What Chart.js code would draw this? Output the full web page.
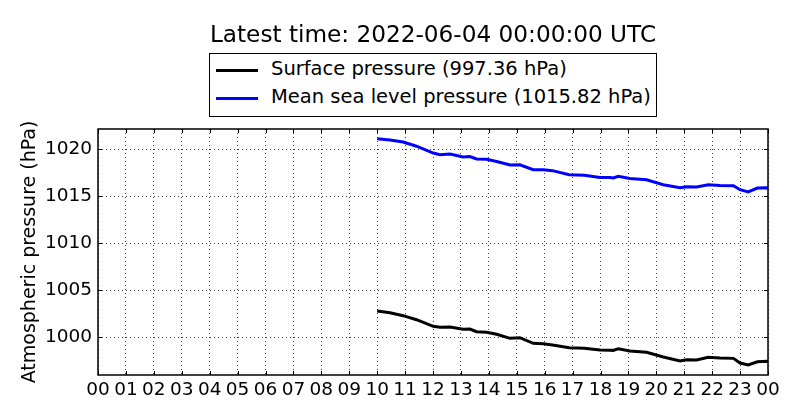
<!DOCTYPE html>
<html>
<head>
<meta charset="utf-8">
<script src="https://cdn.jsdelivr.net/npm/chart.js@4"></script>
<style>
  body { margin: 0; background: #fff; }
  #wrap { position: relative; width: 800px; height: 420px; font-family: "DejaVu Sans", sans-serif; color: #000; }
  #titulo { position: absolute; left: 98px; width: 670px; top: 19px; text-align: center; font-size: 23.2px; line-height: 30px; }
  #leyenda { position: absolute; left: 209px; top: 53px; width: 446px; height: 62px; border: 1px solid #000; background: #fff; }
  .fila { position: absolute; left: 0; height: 28px; line-height: 28px; font-size: 19.5px; white-space: nowrap; }
  .muestra { position: absolute; left: 6px; top: 14px; width: 42px; height: 3px; }
  .texto { position: absolute; left: 61px; top: 0; }
</style>
</head>
<body>
<div id="wrap">
  <canvas id="grafico" width="800" height="420"></canvas>
  <div id="titulo"></div>
  <div id="leyenda"></div>
</div>
<script>
// datos (hora UTC del dia)
const horas = [10.0, 10.46, 10.93, 11.41, 12.01, 12.25, 12.61, 13.08, 13.32, 13.56, 13.92, 14.28, 14.76, 15.11, 15.59, 15.95, 16.28, 16.88, 17.42, 17.98, 18.34, 18.46, 18.64, 19.05, 19.65, 20.25, 20.85, 21.09, 21.44, 21.86, 22.28, 22.76, 23.0, 23.29, 23.62, 23.95, 24.0];
const presionSuperficie = [1002.77, 1002.59, 1002.27, 1001.84, 1001.14, 1001.03, 1001.06, 1000.82, 1000.85, 1000.56, 1000.50, 1000.29, 999.86, 999.93, 999.33, 999.29, 999.15, 998.86, 998.80, 998.62, 998.60, 998.58, 998.76, 998.51, 998.37, 997.87, 997.45, 997.59, 997.55, 997.84, 997.77, 997.73, 997.23, 997.02, 997.37, 997.41, 997.36];
const presionNivelMar = [1021.10, 1020.96, 1020.74, 1020.30, 1019.57, 1019.40, 1019.47, 1019.15, 1019.20, 1018.94, 1018.90, 1018.68, 1018.30, 1018.33, 1017.80, 1017.80, 1017.70, 1017.27, 1017.20, 1016.98, 1016.98, 1016.92, 1017.10, 1016.87, 1016.73, 1016.20, 1015.88, 1015.99, 1015.96, 1016.20, 1016.13, 1016.10, 1015.67, 1015.43, 1015.85, 1015.88, 1015.82];
const ticksY = [1000, 1005, 1010, 1015, 1020];
const ticksX = [0, 1, 2, 3, 4, 5, 6, 7, 8, 9, 10, 11, 12, 13, 14, 15, 16, 17, 18, 19, 20, 21, 22, 23, 24];
const etiquetas = ["Surface pressure (997.36 hPa)", "Mean sea level pressure (1015.82 hPa)"];
const colores = ["#000000", "#0000ff"];
const tituloTexto = "Latest time: 2022-06-04 00:00:00 UTC";

const fuente = "'DejaVu Sans', sans-serif";

// titulo y leyenda
document.getElementById("titulo").textContent = tituloTexto;
const leyenda = document.getElementById("leyenda");
etiquetas.forEach((et, i) => {
  const fila = document.createElement("div");
  fila.className = "fila";
  fila.style.top = (1 + i * 28.3) + "px";
  fila.innerHTML = `<div class="muestra" style="background:${colores[i]}"></div><div class="texto"></div>`;
  fila.querySelector(".texto").textContent = et;
  leyenda.appendChild(fila);
});

// marco y ticks internos como en matplotlib
const marco = {
  id: "marco",
  afterDatasetsDraw(chart) {
    const { ctx, chartArea: a, scales } = chart;
    ctx.save();
    ctx.strokeStyle = "#000";
    ctx.lineWidth = 1;
    ctx.beginPath();
    ticksX.forEach(v => {
      const px = Math.round(scales.x.getPixelForValue(v)) + 0.5;
      ctx.moveTo(px, a.bottom); ctx.lineTo(px, a.bottom - 4);
      ctx.moveTo(px, a.top); ctx.lineTo(px, a.top + 4);
    });
    ticksY.forEach(v => {
      const py = Math.round(scales.y.getPixelForValue(v)) + 0.5;
      ctx.moveTo(a.left, py); ctx.lineTo(a.left + 4, py);
      ctx.moveTo(a.right, py); ctx.lineTo(a.right - 4, py);
    });
    ctx.stroke();
    ctx.lineWidth = 1.5;
    ctx.strokeRect(a.left, a.top, a.right - a.left, a.bottom - a.top);
    ctx.restore();
  }
};

const ctx = document.getElementById("grafico").getContext("2d");
new Chart(ctx, {
  type: "line",
  data: {
    datasets: [
      { label: etiquetas[0], data: horas.map((h, i) => ({ x: h, y: presionSuperficie[i] })), borderColor: colores[0], borderWidth: 3 },
      { label: etiquetas[1], data: horas.map((h, i) => ({ x: h, y: presionNivelMar[i] })), borderColor: colores[1], borderWidth: 3 },
    ],
  },
  options: {
    responsive: false,
    animation: false,
    devicePixelRatio: 1,
    layout: { padding: { top: 129, right: 32, left: 0, bottom: 0 } },
    elements: { point: { radius: 0 }, line: { tension: 0 } },
    plugins: { legend: { display: false }, tooltip: { enabled: false } },
    scales: {
      x: {
        type: "linear",
        min: 0,
        max: 24,
        afterBuildTicks: s => { s.ticks = ticksX.map(v => ({ value: v })); },
        afterFit: s => { s.height = 45; },
        ticks: {
          color: "#000",
          font: { family: fuente, size: 18.5 },
          padding: 4,
          maxRotation: 0,
          autoSkip: false,
          callback: v => String(v % 24).padStart(2, "0"),
        },
        grid: { color: "rgba(0,0,0,0.75)", lineWidth: 1, drawTicks: false },
        border: { display: false, dash: [1, 3] },
      },
      y: {
        min: 995.96,
        max: 1022.13,
        afterBuildTicks: s => { s.ticks = ticksY.map(v => ({ value: v })); },
        afterFit: s => { s.width = 98; },
        ticks: {
          color: "#000",
          font: { family: fuente, size: 18.5 },
          padding: 6,
          callback: v => String(v),
        },
        title: {
          display: true,
          text: "Atmospheric pressure (hPa)",
          color: "#000",
          font: { family: fuente, size: 19 },
          padding: { top: 19, bottom: 4 },
        },
        grid: { color: "rgba(0,0,0,0.75)", lineWidth: 1, drawTicks: false },
        border: { display: false, dash: [1, 3] },
      },
    },
  },
  plugins: [marco],
});
</script>
</body>
</html>
